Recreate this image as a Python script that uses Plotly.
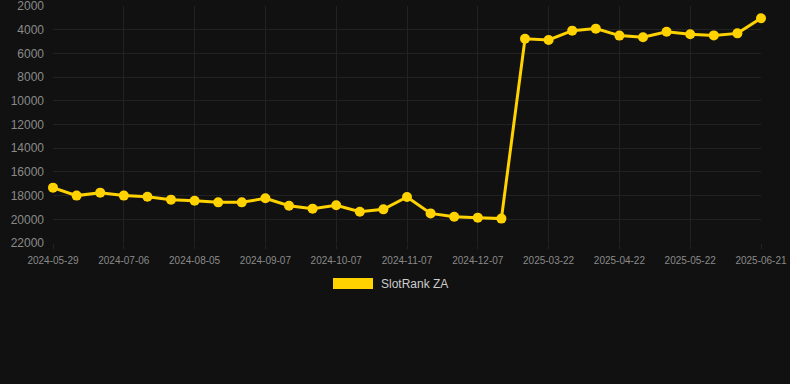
import plotly.graph_objects as go

dates = [
    "2024-05-29", "2024-06-11", "2024-06-24",
    "2024-07-06", "2024-07-16", "2024-07-26",
    "2024-08-05", "2024-08-16", "2024-08-27",
    "2024-09-07", "2024-09-17", "2024-09-27",
    "2024-10-07", "2024-10-17", "2024-10-27",
    "2024-11-07", "2024-11-17", "2024-11-27",
    "2024-12-07", "2024-12-19", "2025-03-01",
    "2025-03-22", "2025-04-01", "2025-04-12",
    "2025-04-22", "2025-05-02", "2025-05-12",
    "2025-05-22", "2025-06-01", "2025-06-11",
    "2025-06-21",
]
ranks = [
    17330, 18000, 17750, 18000, 18090, 18340, 18430, 18570, 18570, 18230,
    18850, 19100, 18820, 19360, 19160, 18120, 19500, 19780, 19860, 19940,
    4760, 4870, 4080, 3910, 4500, 4640, 4170, 4390, 4480, 4310, 3040,
]
tick_labels = dates[::3]
y_ticks = list(range(2000, 22001, 2000))
series_name = "SlotRank ZA"

gold = "#FFD200"
bg = "#111111"
grid = "#222222"
tick_col = "#8a8a8a"

fig = go.Figure()
fig.add_trace(go.Scatter(
    x=dates, y=ranks, mode="lines+markers", name=series_name,
    line=dict(color=gold, width=3),
    marker=dict(color=gold, size=10),
    showlegend=False,
    cliponaxis=False,
))

fig.update_layout(
    width=790, height=384,
    paper_bgcolor=bg, plot_bgcolor=bg,
    margin=dict(l=53, r=29, t=6, b=141),
    font=dict(family="Liberation Sans, Arial, sans-serif", color=tick_col),
    xaxis=dict(
        type="category", range=[0, len(dates) - 1],
        tickmode="array", tickvals=tick_labels, ticktext=tick_labels,
        tickangle=0, automargin=False,
        tickfont=dict(size=10, color=tick_col),
        showgrid=True, gridcolor=grid, gridwidth=1,
        zeroline=False, showline=False,
        ticks="outside", ticklen=5, tickcolor=grid,
        ticklabelstandoff=3, ticklabeloverflow="allow",
    ),
    yaxis=dict(
        range=[22000, 2000], tickvals=y_ticks,
        ticktext=[str(v) for v in y_ticks],
        tickfont=dict(size=12, color=tick_col),
        showgrid=True, gridcolor=grid, gridwidth=1,
        zeroline=False, showline=False, ticks="", ticklabelstandoff=8,
        ticklabeloverflow="allow", automargin=False,
    ),
    shapes=[dict(
        type="rect", xref="paper", yref="paper",
        x0=(333 - 53) / 708, x1=(373 - 53) / 708,
        y0=(243 - 289) / 237, y1=(243 - 278) / 237,
        fillcolor=gold, line=dict(width=0),
    )],
    annotations=[dict(
        text=series_name, xref="paper", yref="paper",
        x=(379 - 53) / 708, y=(243 - 284) / 237,
        xanchor="left", yanchor="middle", showarrow=False,
        font=dict(size=12, color="#cccccc"),
    )],
)

fig.write_html(
    "out.html",
    config={"displayModeBar": False},
    post_script="document.body.style.margin='0';document.body.style.background='#111111';",
)
